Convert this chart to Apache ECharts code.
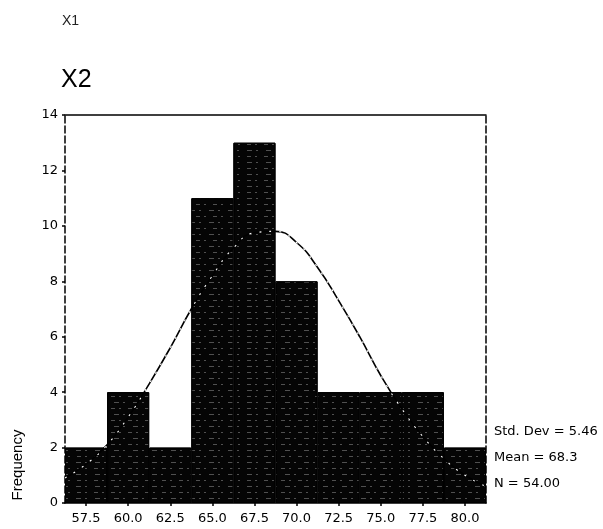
<!DOCTYPE html>
<html><head><meta charset="utf-8">
<script src="https://cdn.jsdelivr.net/npm/echarts@6/dist/echarts.min.js"></script>
<style>html,body{margin:0;padding:0;background:#fff}#c{width:603px;height:529px}</style>
</head><body><div id="c"></div>
<script>
// Histogram bins (bin centres) and counts
const binLabels = ['57.5','60.0','62.5','65.0','67.5','70.0','72.5','75.0','77.5','80.0'];
const frequencies = [2, 4, 2, 11, 13, 8, 4, 4, 4, 2];
// Fitted normal curve, values at bin edges / centres
const curveX = [56.25, 57.5, 58.75, 60, 61.25, 62.5, 63.75, 65, 66.25, 67.5, 68.75, 70, 71.25, 72.5, 73.75, 75, 76.25, 77.5, 78.75, 80, 81.25];
const curveY = [0.9, 1.4, 2.1, 3.1, 4.3, 5.6, 7.0, 8.2, 9.2, 9.75, 9.8, 9.4, 8.5, 7.3, 6.0, 4.6, 3.4, 2.4, 1.6, 1.0, 0.6];
const statLines = ['Std. Dev = 5.46', 'Mean = 68.3', 'N = 54.00'];
const yMin = 0, yMax = 14, yStep = 2;
const xValMin = 56.25, xValMax = 81.25;

const FONT = 'DejaVu Sans';
const chart = echarts.init(document.getElementById('c'), null, {renderer: 'canvas'});
const curvePts = curveX.map((x, i) => [x, curveY[i]]);

chart.setOption({
  animation: false,
  backgroundColor: '#fff',
  grid: {left: 65, top: 115, right: 117, bottom: 26, containLabel: false},
  xAxis: [{
    type: 'category', data: binLabels, position: 'bottom',
    axisLine: {show: true, lineStyle: {color: '#000', width: 1.5}},
    axisTick: {show: true, alignWithLabel: true, length: 3, lineStyle: {color: '#000', width: 1.5}},
    axisLabel: {color: '#000', fontFamily: FONT, fontSize: 13, margin: 9},
    splitLine: {show: false}
  }, {
    type: 'value', position: 'top', min: xValMin, max: xValMax,
    axisLine: {show: true, onZero: false, lineStyle: {color: '#000', width: 1.5}},
    axisTick: {show: false}, axisLabel: {show: false}, splitLine: {show: false}
  }],
  yAxis: [{
    type: 'value', min: yMin, max: yMax, interval: yStep,
    axisLine: {show: true, lineStyle: {color: '#000', width: 1.5, type: [7, 3]}},
    axisTick: {show: true, length: 3, lineStyle: {color: '#000', width: 1.5}},
    axisLabel: {color: '#000', fontFamily: FONT, fontSize: 13, margin: 7},
    splitLine: {show: false}
  }, {
    type: 'value', min: yMin, max: yMax, interval: yStep, position: 'right',
    axisLine: {show: true, lineStyle: {color: '#000', width: 1.5, type: [7, 3]}},
    axisTick: {show: false}, axisLabel: {show: false}, splitLine: {show: false}
  }],
  series: [{
    type: 'bar', data: frequencies, xAxisIndex: 0, yAxisIndex: 0,
    barCategoryGap: '0%', z: 2,
    itemStyle: {
      color: '#050505', borderColor: '#000', borderWidth: 1,
      decal: {symbol: 'rect', symbolSize: 1, color: 'rgba(255,255,255,0.3)',
        dashArrayX: [[5, 4, 2, 8], [2, 7, 4, 4]], dashArrayY: [1, 5], rotation: 0}
    }
  }, {
    type: 'line', data: curvePts, xAxisIndex: 1, yAxisIndex: 0,
    smooth: true, showSymbol: false, z: 3,
    lineStyle: {color: '#000', width: 1.6}
  }, {
    type: 'line', data: curvePts, xAxisIndex: 1, yAxisIndex: 0,
    smooth: true, showSymbol: false, z: 4,
    lineStyle: {color: '#fff', width: 1.1, type: [2, 8]}
  }],
  graphic: [
    {type: 'text', left: 62, top: 14, style: {text: 'X1', font: '14px "Liberation Sans"', fill: '#222'}},
    {type: 'text', left: 61, top: 68, style: {text: 'X2', font: '25px "Liberation Sans"', fill: '#000'}},
    {type: 'text', x: 18, y: 465, rotation: Math.PI / 2,
      style: {text: 'Frequency', font: '15px "Liberation Sans"', fill: '#000', align: 'center', verticalAlign: 'middle'}},
    {type: 'text', left: 494, top: 425, style: {text: statLines[0], font: '13px "DejaVu Sans"', fill: '#000'}},
    {type: 'text', left: 494, top: 451, style: {text: statLines[1], font: '13px "DejaVu Sans"', fill: '#000'}},
    {type: 'text', left: 494, top: 477, style: {text: statLines[2], font: '13px "DejaVu Sans"', fill: '#000'}}
  ]
});
</script></body></html>
